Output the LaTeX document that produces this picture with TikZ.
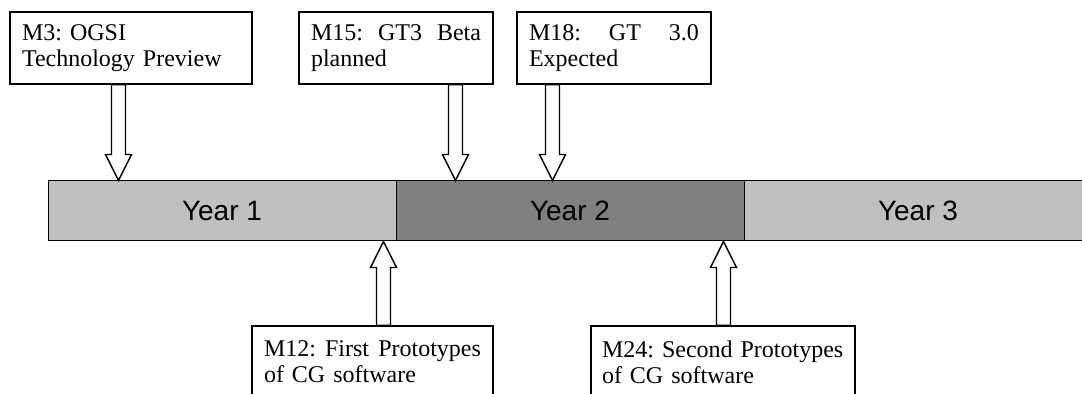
\documentclass[tikz,border=0pt]{standalone}
\usepackage{fontspec}
\setmainfont{Liberation Serif}
\newfontfamily\yearfont{Liberation Sans}
\usetikzlibrary{calc}
\frenchspacing
\hyphenpenalty=10000

\definecolor{lightbar}{HTML}{C0C0C0}
\definecolor{darkbar}{HTML}{808080}

\tikzset{
  year/.style={draw, line width=0.5pt, minimum width=174pt, minimum height=30pt,
    inner sep=0pt, font=\yearfont\fontsize{14}{16}\selectfont},
  milestone/.style={draw, fill=white, line width=0.7pt, align=left, inner xsep=6pt,
    inner ysep=0pt, minimum height=36pt, font=\fontsize{12}{13}\selectfont},
  blockarrow/.style={draw, fill=white, line width=0.7pt, to path={
    let \p1=(\tikztostart), \p2=(\tikztotarget), \n1={sign(\y2-\y1)} in
    (\x1-3.5pt,\y1) -- (\x1-3.5pt,\y2-\n1*13pt) -- (\x1-6.5pt,\y2-\n1*13pt)
    -- (\x2,\y2) -- (\x1+6.5pt,\y2-\n1*13pt) -- (\x1+3.5pt,\y2-\n1*13pt)
    -- (\x1+3.5pt,\y1) -- cycle}}
}

\begin{document}
\begin{tikzpicture}[x=0.5pt, y=-0.5pt]
\useasboundingbox (0,0) rectangle (1082,394);
\clip (0,0) rectangle (1082,394);

% Timeline bar
\node[year, fill=lightbar] (y1) at (222,211) {Year 1};
\node[year, fill=lightbar] (y3) at (918,211) {Year 3};
\node[year, fill=darkbar] (y2) at (570,211) {Year 2};

% Milestones above the bar
\node[milestone, text width=109pt] (m3) at (131,48) {M3: OGSI\\Technology Preview};
\node[milestone, text width=85pt] (m15) at (396,48) {M15:\hfill GT3\hfill Beta\\planned};
\node[milestone, text width=85pt] (m18) at (614,48) {M18:\hfill GT\hfill 3.0\\Expected};

% Milestones below the bar
\node[milestone, text width=108.5pt] (m12) at (372.5,362) {M12:\hfill First\hfill Prototypes\\of CG software};
\node[milestone, text width=121pt, inner xsep=5.5pt] (m24) at (723,362) {M24: Second Prototypes\\of CG software};

% Arrow tips on the bar
\path (y1.north west) ++(71,0) coordinate (t3);
\path (y2.north west) ++(60,0) coordinate (t15);
\path (y2.north west) ++(157,0) coordinate (t18);
\path (y1.south west) ++(336,0) coordinate (t12);
\path (y2.south west) ++(328,0) coordinate (t24);

% Block arrows
\draw[blockarrow] (t3 |- m3.south) to (t3);
\draw[blockarrow] (t15 |- m15.south) to (t15);
\draw[blockarrow] (t18 |- m18.south) to (t18);
\draw[blockarrow] (t12 |- m12.north) to (t12);
\draw[blockarrow] (t24 |- m24.north) to (t24);

\end{tikzpicture}
\end{document}
